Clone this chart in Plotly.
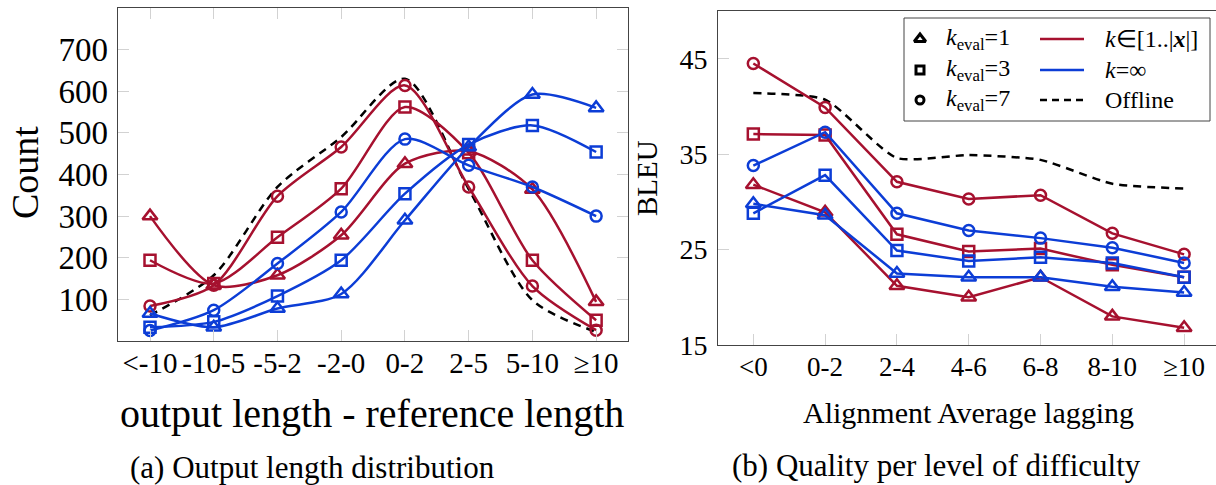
import plotly.graph_objects as go

# ---------------- data ----------------
left_cats = ["<-10", "-10-5", "-5-2", "-2-0", "0-2", "2-5", "5-10", "≥10"]
left_red_tri = [300, 134, 158, 254, 426, 456, 364, 94]
left_red_sq = [194, 138, 249, 366, 562, 452, 194, 50]
left_red_ci = [84, 134, 348, 466, 614, 370, 132, 26]
left_blue_tri = [66, 33, 78, 113, 290, 466, 592, 560]
left_blue_sq = [33, 46, 108, 194, 354, 472, 518, 454]
left_blue_ci = [25, 74, 186, 310, 485, 422, 370, 300]
left_offline = [62, 158, 370, 490, 630, 365, 98, 22]
left_yticks = [100, 200, 300, 400, 500, 600, 700]

right_cats = ["<0", "0-2", "2-4", "4-6", "6-8", "8-10", "≥10"]
right_red_ci = [44.5, 39.9, 32.1, 30.3, 30.7, 26.7, 24.5]
right_red_sq = [37.1, 37.0, 26.6, 24.8, 25.1, 23.4, 22.1]
right_red_tri = [31.8, 28.9, 21.2, 20.0, 22.1, 18.0, 16.8]
right_blue_ci = [33.8, 37.3, 28.8, 27.0, 26.2, 25.2, 23.6]
right_blue_sq = [28.8, 32.8, 24.9, 23.8, 24.2, 23.6, 22.1]
right_blue_tri = [29.8, 28.6, 22.5, 22.1, 22.1, 21.1, 20.5]
right_offline = [41.4, 40.7, 34.6, 34.9, 34.4, 31.9, 31.4]
right_yticks = [15, 25, 35, 45]

# ---------------- style ----------------
W, H = 1216, 485
RED = "#A6112F"
BLUE = "#0C3DD6"
FONT = "Liberation Serif, serif"
FRAME = "#444444"
TICKC = "#d2d2d2"
LW = 2.5


def esc(s):
    return s.replace("<", "&lt;")


def px_x(p):
    return p / W


def px_y(p):
    return 1 - p / H


fig = go.Figure()

sym = {"tri": ("triangle-up-open", 13), "sq": ("square-open", 11), "ci": ("circle-open", 11)}

# left panel
fig.add_trace(go.Scatter(x=left_cats, y=left_offline, mode="lines",
                         line=dict(color="black", width=LW, dash="8px,6px", shape="spline", smoothing=0.8),
                         xaxis="x", yaxis="y", showlegend=False))
for vals, color, key in [(left_red_tri, RED, "tri"), (left_red_sq, RED, "sq"), (left_red_ci, RED, "ci"),
                         (left_blue_tri, BLUE, "tri"), (left_blue_sq, BLUE, "sq"), (left_blue_ci, BLUE, "ci")]:
    s, sz = sym[key]
    fig.add_trace(go.Scatter(x=left_cats, y=vals, mode="lines+markers",
                             line=dict(color=color, width=LW, shape="spline", smoothing=0.8),
                             marker=dict(symbol=s, size=sz, color=color, line=dict(width=LW, color=color)),
                             xaxis="x", yaxis="y", showlegend=False))

# right panel
fig.add_trace(go.Scatter(x=right_cats, y=right_offline, mode="lines",
                         line=dict(color="black", width=LW, dash="8px,6px", shape="spline", smoothing=0.6),
                         xaxis="x2", yaxis="y2", showlegend=False))
for vals, color, key in [(right_red_tri, RED, "tri"), (right_red_sq, RED, "sq"), (right_red_ci, RED, "ci"),
                         (right_blue_tri, BLUE, "tri"), (right_blue_sq, BLUE, "sq"), (right_blue_ci, BLUE, "ci")]:
    s, sz = sym[key]
    fig.add_trace(go.Scatter(x=right_cats, y=vals, mode="lines+markers",
                             line=dict(color=color, width=LW),
                             marker=dict(symbol=s, size=sz, color=color, line=dict(width=LW, color=color)),
                             xaxis="x2", yaxis="y2", showlegend=False))

# legend (drawn on an invisible pixel-space axis)
leg_rows = [39, 70, 100]
leg_mark_x = 920
leg_line_x = [1040, 1084]
for (key, lsz), ry in zip([("triangle-up-open", 10), ("square-open", 8), ("circle-open", 8)], leg_rows):
    fig.add_trace(go.Scatter(x=[leg_mark_x], y=[ry], mode="markers",
                             marker=dict(symbol=key, size=lsz, color="black", line=dict(width=3, color="black")),
                             xaxis="x3", yaxis="y3", showlegend=False, hoverinfo="skip"))
for (color, dash), ry in zip([(RED, "solid"), (BLUE, "solid"), ("black", "7px,5px")], leg_rows):
    fig.add_trace(go.Scatter(x=leg_line_x, y=[ry, ry], mode="lines",
                             line=dict(color=color, width=LW, dash=dash),
                             xaxis="x3", yaxis="y3", showlegend=False, hoverinfo="skip"))

left_x_dom = [px_x(117.5), px_x(628)]
left_y_dom = [px_y(341), px_y(8)]
right_x_dom = [px_x(718), 1.0]
right_y_dom = [px_y(345), px_y(11)]

common_axis = dict(showgrid=False, zeroline=False, ticks="inside", ticklen=11, tickwidth=1.3,
                   tickcolor=TICKC, linecolor=FRAME, linewidth=1, showline=True, automargin=False)

fig.update_layout(
    width=W, height=H, autosize=False,
    margin=dict(l=0, r=0, t=0, b=0, pad=0, autoexpand=False),
    paper_bgcolor="white", plot_bgcolor="rgba(0,0,0,0)",
    xaxis=dict(domain=left_x_dom, anchor="y", range=[-0.51, 7.5], type="category",
               tickvals=left_cats, ticktext=[esc(c) for c in left_cats], mirror="ticks",
               ticklabelstandoff=-4, tickfont=dict(family=FONT, size=29, color="black"), **common_axis),
    yaxis=dict(domain=left_y_dom, anchor="x", range=[0, 800], tickvals=left_yticks, mirror="ticks",
               ticklabelstandoff=2, tickfont=dict(family=FONT, size=33, color="black"), **common_axis),
    xaxis2=dict(domain=right_x_dom, anchor="y2", range=[-0.492, 6.444], type="category",
                tickvals=right_cats, ticktext=[esc(c) for c in right_cats], mirror=True,
                ticklabelstandoff=-2, tickfont=dict(family=FONT, size=27, color="black"), **common_axis),
    yaxis2=dict(domain=right_y_dom, anchor="x2", range=[15, 50], tickvals=right_yticks, mirror=False,
                ticklabelstandoff=4, tickfont=dict(family=FONT, size=28, color="black"), **common_axis),
    yaxis4=dict(overlaying="y2", side="right", anchor="x2", range=[15, 50], tickvals=right_yticks,
                showticklabels=False, showline=False, showgrid=False, zeroline=False, automargin=False,
                ticks="inside", ticklen=11, tickwidth=1.3, tickcolor=TICKC),
    xaxis3=dict(domain=[0, 1], anchor="y3", range=[0, W], visible=False, fixedrange=True, automargin=False),
    yaxis3=dict(domain=[0, 1], anchor="x3", range=[H, 0], visible=False, fixedrange=True, automargin=False),
    shapes=[dict(type="rect", xref="x3", yref="y3", x0=904, x1=1210, y0=18, y1=121,
                 line=dict(color=FRAME, width=1), fillcolor="white", layer="below")],
)

ann = []


def add_text(text, x, y, size, xanchor="center", angle=0):
    ann.append(dict(text=text, x=x, y=y, xref="x3", yref="y3", showarrow=False, xanchor=xanchor,
                    yanchor="middle", textangle=angle, font=dict(family=FONT, size=size, color="black")))


add_text("Count", 25, 173, 38, angle=-90)
add_text("output length - reference length", 372, 413, 40)
add_text("(a) Output length distribution", 312, 467, 31)
add_text("BLEU", 647, 178, 29, angle=-90)
add_text("Alignment Average lagging", 968, 412, 30)
add_text("(b) Quality per level of difficulty", 936, 465, 31)

leg_left = ["<i>k</i><sub>eval</sub>=1", "<i>k</i><sub>eval</sub>=3", "<i>k</i><sub>eval</sub>=7"]
leg_right = ["<i>k</i>∈[1..|<b><i>x</i></b>|]", "<i>k</i>=∞", "Offline"]
for t, ry in zip(leg_left, leg_rows):
    add_text(t, 944, ry, 24, xanchor="left")
for t, ry in zip(leg_right, leg_rows):
    add_text(t, 1103, ry, 24, xanchor="left")

fig.update_layout(annotations=ann)
fig.write_html(
    "out.html",
    config={"displayModeBar": False, "responsive": False},
    post_script="document.body.style.margin='0';",
)
